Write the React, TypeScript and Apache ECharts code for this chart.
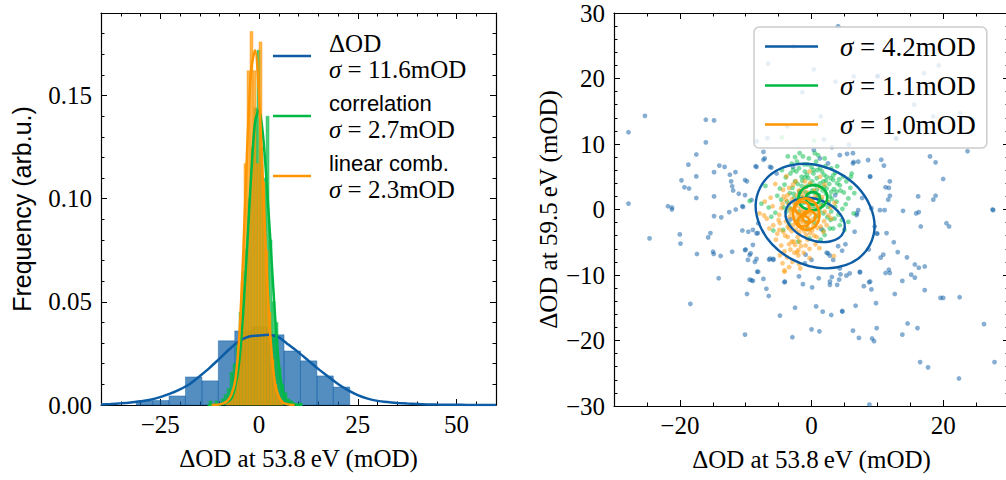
import React, { useEffect, useRef } from 'react';
import * as echarts from 'echarts';

const BLUE = '#0C5DA5';
const GREEN = '#00B945';
const ORANGE = '#FF9500';

// ---------- Left panel: histograms (density) ----------
const blueBinEdges = [-31.1, -26.94, -22.78, -18.62, -14.46, -10.3, -6.14, -1.98, 2.18, 6.34, 10.5, 14.66, 18.82, 22.98];
const blueHist = [0.0019, 0.0022, 0.0044, 0.0136, 0.0117, 0.0311, 0.0359, 0.0379, 0.034, 0.0262, 0.0214, 0.0141, 0.0087];

const greenBinEdges = [-12.66, -11.9, -11.14, -10.38, -9.62, -8.86, -8.1, -7.34, -6.58, -5.82, -5.06, -4.3, -3.54, -2.78, -2.02, -1.26, -0.5, 0.26, 1.02, 1.78, 2.54, 3.3, 4.06, 4.82, 5.58, 6.34, 7.1, 7.86, 8.62, 9.38, 10.14, 10.9];
const greenHist = [0.002, 0.0, 0.002, 0.0, 0.003, 0.005, 0.008, 0.016, 0.02, 0.03, 0.045, 0.065, 0.075, 0.1, 0.125, 0.144, 0.172, 0.125, 0.11, 0.14, 0.08, 0.05, 0.04, 0.018, 0.01, 0.006, 0.003, 0.002, 0.001, 0.0, 0.001];

const orangeBinEdges = [-8.36, -7.6, -6.84, -6.08, -5.32, -4.56, -3.8, -3.04, -2.28, -1.52, -0.76, 0.0, 0.76, 1.52, 2.28, 3.04, 3.8, 4.56, 5.32, 6.08];
const orangeHist = [0.002, 0.003, 0.006, 0.012, 0.025, 0.06, 0.117, 0.162, 0.181, 0.162, 0.117, 0.176, 0.108, 0.075, 0.045, 0.022, 0.01, 0.004, 0.002];

// KDE curves
const blueKdeX = [-40, -37.5, -35, -32.5, -30, -27.5, -25, -22.5, -20, -17.5, -15, -12.5, -10, -7.5, -5, -2.5, 0, 2.5, 5, 7.5, 10, 12.5, 15, 17.5, 20, 22.5, 25, 27.5, 30, 32.5, 35, 37.5, 40, 42.5, 45, 47.5, 50, 52.5, 55, 57.5, 60];
const blueKdeY = [0.0003, 0.0005, 0.0008, 0.0012, 0.0018, 0.0025, 0.0038, 0.0055, 0.0076, 0.0102, 0.014, 0.018, 0.0225, 0.027, 0.031, 0.0332, 0.0337, 0.0341, 0.0328, 0.0292, 0.0255, 0.0215, 0.0175, 0.0138, 0.0102, 0.0072, 0.0048, 0.0031, 0.002, 0.0014, 0.001, 0.0007, 0.0005, 0.0003, 0.0002, 0.00015, 0.0001, 0.00006, 0.00004, 0.00002, 0.00001];

const greenKdeX = [-13, -12, -11, -10, -9, -8, -7, -6, -5, -4, -3, -2, -1, 0, 1, 2, 3, 4, 5, 6, 7, 8, 9, 10, 11];
const greenKdeY = [0.0, 0.0001, 0.0002, 0.0004, 0.0008, 0.0015, 0.0032, 0.009, 0.021, 0.045, 0.077, 0.111, 0.137, 0.143, 0.131, 0.106, 0.076, 0.045, 0.02, 0.007, 0.0025, 0.0009, 0.0003, 0.0001, 0.0];

const orangeKdeX = [-12, -11, -10, -9, -8, -7, -6, -5, -4, -3, -2, -1, 0, 1, 2, 3, 4, 5, 6, 7, 8, 9];
const orangeKdeY = [0.0, 0.0001, 0.0003, 0.0008, 0.002, 0.005, 0.012, 0.033, 0.073, 0.124, 0.162, 0.172, 0.15, 0.108, 0.063, 0.03, 0.011, 0.004, 0.0013, 0.0004, 0.0001, 0.0];

// ---------- Right panel: scatter ----------
const bluePts = [
  [4.05, 27.97], [-6.59, 22.26], [19.35, 22.0], [10.1, 20.4], [3.65, 19.5], [-1.4, 17.9], [-25.3, 14.3], [-16.05, 13.7],
  [-14.8, 13.6], [-27.8, 11.8], [-16.05, 10.25], [18.5, 14.2], [12.9, 10.8], [-7.3, 8.8], [-7.3, 7.6], [-17.5, 8.4],
  [-18.7, 6.85], [-14.8, 5.7], [-14.0, 6.7], [-13.2, 6.5], [-11.55, 5.7], [-12.4, 5.3], [-17.5, 5.05], [-19.75, 4.45],
  [-19.3, 3.4], [-18.6, 3.2], [-17.5, 1.75], [-14.8, 2.0], [-12.2, 4.3], [-12.05, 3.55], [-11.9, 2.9], [-11.05, 2.4],
  [-9.8, 4.3], [-10.5, 0.5], [-8.5, 6.6], [-6.3, 6.5], [6.3, 8.6], [5.4, 8.5], [10.6, 7.6], [11.0, 6.7], [8.9, 5.05],
  [11.9, 4.3], [11.25, 3.4], [11.75, 3.3], [11.9, 2.1], [11.65, 1.5], [16.2, 2.0], [18.85, 2.1], [18.5, 1.5], [20.0, 4.65],
  [18.85, 7.2], [18.0, 8.1], [-27.8, 0.9], [-21.8, 0.5], [-21.2, 0.3], [27.5, 0.0], [7.7, 1.75], [6.4, 7.25],
  [-2.7, 24.9], [0.35, 21.4], [6.4, 20.3], [10.0, 20.3], [17.1, 20.8], [15.6, 16.0], [1.4, 14.2], [1.9, 10.7], [3.1, 9.5],
  [0.35, 9.1], [5.7, 9.9], [-6.7, 10.9], [-8.3, 10.4], [12.8, 10.9], [-3.7, 12.7], [22.6, 14.7], [23.7, 8.9],
  [-21.2, 0.0], [-14.8, -1.0], [-13.7, -1.2], [-12.5, -0.4], [-11.5, 0.0], [-24.6, -4.4], [-20.0, -3.8], [-19.9, -5.2],
  [-15.35, -3.6], [-15.7, -4.25], [-17.4, -6.8], [-14.95, -6.45], [-14.85, -6.8], [-13.8, -7.1], [-12.05, -6.45],
  [-10.5, -3.2], [-8.9, -3.1], [-8.15, -3.6], [-8.9, -5.4], [-10.0, -6.1], [-9.25, -6.7], [-9.65, -7.7], [-8.35, -7.55],
  [-6.45, -7.65], [-5.8, -7.55], [-8.25, -9.5], [-14.1, -10.5], [-9.4, -10.7], [-8.9, -10.9], [-7.3, -10.6], [-6.85, -12.1],
  [-6.5, -13.2], [-9.8, -12.9], [-18.4, -14.4], [-4.1, -11.1], [-1.9, -10.2], [-1.3, -11.4], [-0.9, -6.9], [0.1, -11.9],
  [1.1, -10.5], [2.3, -6.6], [2.8, -11.5], [3.1, -10.3], [3.9, -11.5], [4.2, -10.7], [4.4, -9.9], [5.3, -10.1], [4.65, -6.3],
  [4.05, -5.6], [5.15, -5.3], [6.55, -3.4], [7.35, -9.6], [7.95, -11.7], [8.75, -11.1], [9.1, -12.2], [8.7, -6.1],
  [10.0, -3.7], [11.4, -3.6], [12.5, -5.0], [13.1, -6.5], [10.9, -6.9], [10.5, -7.35], [14.5, -7.3], [11.25, -9.7],
  [11.9, -9.7], [11.75, -9.2], [15.15, -9.95], [15.7, -10.4], [13.8, -10.9], [12.65, -12.9], [15.7, -8.4], [16.3, -8.9],
  [17.2, -8.7], [17.2, -12.3], [19.6, -13.5], [20.0, -13.5], [22.5, -13.4], [26.2, -17.5], [27.8, -23.3], [22.4, -25.8],
  [16.5, -23.3], [17.7, -24.1], [16.1, -18.1], [14.6, -17.4], [13.8, -19.1], [9.8, -14.3], [6.7, -14.7], [4.65, -15.5],
  [4.7, -15.6], [3.0, -16.1], [1.7, -15.6], [0.7, -14.8], [-2.5, -15.0], [-4.8, -16.2], [-10.1, -19.1], [-2.9, -19.5],
  [0.0, -18.3], [1.2, -18.6], [6.3, -18.5], [7.2, -19.6], [9.2, -19.7], [9.5, -20.1], [9.9, -18.1], [8.8, -29.8],
  [10.4, -0.1], [11.1, -0.1], [13.9, -0.2], [15.9, -0.6], [16.3, -0.4], [16.6, -2.6], [20.5, -2.1], [20.9, -2.6],
  [27.6, -0.1], [6.9, -0.6], [2.8, -7.05], [-7.1, 7.8], [-8.35, 6.5], [-6.1, 6.4], [-10.1, 4.5], [-10.1, 2.2], [-10.4, 0.4],
  [-9.1, 1.45], [-8.1, -2.1], [-9.6, -3.4], [-8.35, -3.65], [-10.1, -6.2], [-9.4, -6.95], [-8.6, -8.0], [-6.3, -7.5],
  [-5.8, -7.7], [-8.1, -9.5], [-9.1, -10.8], [-4.05, -11.0], [-1.0, -8.2], [0.0, -7.7], [2.5, -6.7], [3.3, -7.7],
  [4.3, -9.0], [5.8, -9.75], [7.35, -9.5], [8.9, -11.0], [2.8, -11.0], [1.27, 7.8], [2.5, 7.05], [4.3, 8.3], [6.3, 7.05],
  [7.1, 7.3], [8.6, 7.55], [8.9, 5.0], [6.85, -0.85], [7.1, -0.1], [9.1, 0.2], [9.6, -2.6], [9.9, -3.65], [-5.3, 5.5],
  [-2.8, 6.5], [-3.2, -1.5], [1.5, -3.0], [-1.8, 2.6], [3.6, 2.2]
];

const greenPts = [
  [-3.6, 8.1], [-1.8, 8.6], [-1.3, 8.1], [-2.8, 6.0], [-2.3, 5.8], [-1.0, 5.8], [0.0, 6.5], [1.3, 6.3], [2.3, 5.0],
  [3.0, 6.3], [3.3, 4.5], [4.3, 3.7], [4.8, 5.0], [5.6, 1.7], [3.8, 2.7], [3.8, 1.2], [3.0, -0.3], [1.8, 4.3], [0.8, 4.8],
  [-4.1, 3.8], [-4.8, 3.2], [-3.3, 2.5], [-4.6, 1.5], [-3.8, -0.3], [-4.3, -3.1], [-2.0, -4.9], [-0.3, -4.4], [2.0, -3.9],
  [2.8, -2.9], [4.3, -2.4], [3.5, -1.4], [-6.1, -1.1], [-7.6, 0.9], [-1.5, 5.0], [-0.5, 4.8], [0.3, 5.5], [1.3, 4.0],
  [-0.8, 3.5], [-2.5, 4.3], [2.3, 3.2], [2.8, 2.0], [1.8, 0.7], [1.0, -0.9], [-0.8, -1.9], [-2.0, -1.6], [-3.3, 0.2],
  [-9.4, 1.3], [-5.8, -3.2], [1.8, -3.2], [3.3, -2.9], [4.6, -1.6], [5.6, -1.9], [6.1, 5.5], [6.0, 5.0],
  [0.5, 2.5], [-0.5, 2.0], [1.5, 1.5], [-1.2, 1.0], [0.8, 3.0], [2.2, 2.4], [-1.8, 2.8], [0.2, 0.5], [1.2, -0.2],
  [-0.3, 3.8], [2.7, 3.9], [3.6, 0.4], [4.9, 2.6], [5.2, 0.8], [4.1, -0.8], [-2.6, 1.8], [-3.9, 4.9], [-5.2, 2.1],
  [-6.5, 0.3], [-5.5, -0.5], [-1.1, 6.9], [0.7, 7.3], [2.0, 7.8], [3.6, 5.6], [-2.2, 7.3], [1.6, 5.8], [-0.2, 1.5],
  [0.9, 1.8], [1.9, 3.5], [-1.5, 3.6], [-2.9, 3.3], [2.4, -1.2], [3.1, 1.6], [-4.5, 6.0], [5.9, 3.3], [4.2, 4.6],
  [-0.6, -3.0], [0.4, -2.0], [-3.4, -2.2], [1.4, -4.6], [-7.0, 3.6], [6.4, -0.6], [5.0, -3.1], [-1.9, -0.3], [0.6, -1.2],
  [2.9, 4.8], [-2.4, 0.8], [3.9, 6.6], [-3.0, 7.0], [1.0, 8.3], [-0.4, 7.8], [-4.5, 11.0], [0.4, 10.5], [0.1, 2.9],
  [1.1, 2.2], [-0.9, 2.6], [2.6, 1.1], [-1.4, 4.4], [0.6, 3.7], [1.7, 2.9], [-2.1, 3.9], [3.4, 3.1],
  [-0.7, 5.3], [0.9, 6.0], [2.1, 6.6], [-1.9, 6.3], [3.3, 5.2], [4.4, 2.9], [3.9, 4.0], [2.5, 0.4], [1.4, 0.9],
  [-0.3, 0.9], [0.7, 0.1], [1.8, -0.6], [2.9, -1.6], [-1.6, 1.9], [-2.7, 2.4], [-3.7, 1.2], [-4.2, 0.3], [5.3, 4.3],
  [4.7, 0.1], [2.2, 4.4], [0.1, 4.3], [-1.0, 4.9], [-3.2, 5.5], [1.9, 5.3], [3.0, 2.7], [0.3, 6.0], [-0.6, 6.9],
  [-2.5, 8.0], [0.5, 8.6], [6.5, 2.5]
];

const orangePts = [
  [-4.3, 3.0], [-3.6, 2.2], [-4.6, 0.2], [-7.1, 1.2], [-6.8, -1.4], [-5.8, -2.4], [-4.8, -2.1], [-4.3, -3.4], [-3.6, -4.2],
  [-3.0, -4.9], [-2.5, -5.4], [-1.8, -4.9], [-4.1, -6.4], [-4.4, -8.2], [-4.1, -9.5], [-2.0, -7.0], [-0.8, -3.9],
  [0.8, -4.2], [1.8, -3.4], [2.3, -2.4], [3.0, -1.4], [2.0, -0.3], [1.3, 5.0], [-0.3, 5.8], [0.8, 2.2], [-1.0, 4.3],
  [-2.8, 3.8], [-1.8, 1.2], [-2.3, -0.3], [-0.3, -0.8], [0.3, -2.4], [-1.5, -2.9], [-2.8, -2.4], [-3.3, -1.1],
  [-4.1, -9.3], [-5.2, -3.7], [-4.9, -3.1], [-1.9, -8.3], [-1.7, -9.0], [3.4, -7.1], [-2.2, -6.5], [-2.7, -4.9],
  [-7.2, -0.9], [-7.9, -0.6], [-3.8, 5.1], [-3.4, 3.3], [-2.4, 4.3], [-4.2, 2.0],
  [-1.0, -1.0], [-0.5, 0.3], [-1.5, -0.5], [-2.0, 0.5], [0.2, -1.5], [-1.2, -2.0], [-0.7, 1.2], [0.5, 0.8], [-2.6, -1.4],
  [-1.9, -3.5], [-0.9, -5.5], [0.1, -3.2], [1.0, -1.0], [1.5, 0.5], [-3.5, 0.8], [-3.9, -1.8], [-2.2, 2.2], [-1.3, 3.0],
  [0.3, 1.8], [1.2, 3.4], [-0.2, 4.0], [2.4, 1.2], [2.6, -0.9], [1.9, -1.8], [-4.9, -0.8], [-5.4, -4.6], [-3.2, -6.1],
  [-1.2, -6.6], [-0.3, -6.0], [0.6, -5.3], [-2.9, -8.0], [-6.2, 1.8], [-5.5, 3.9], [-0.6, 2.6], [0.9, -2.8], [-1.6, 0.1],
  [-3.0, -3.3], [-4.6, -5.5], [2.0, 3.8], [3.5, 1.0], [0.0, 0.0], [-2.4, -2.0], [-0.8, -2.4], [-1.1, 1.8], [-2.0, -6.2],
  [-3.7, -7.3], [-1.4, -1.6], [-0.4, -1.9], [-2.9, 0.1], [-1.7, -1.1], [0.7, -0.6], [-3.4, -2.9], [-2.1, -4.2], [-0.2, -3.6],
  [-3.1, -0.5], [-2.6, 0.9], [-1.9, 2.9], [-0.9, 3.4], [0.4, 2.9], [1.6, 1.9], [1.1, 0.2], [-0.1, -0.4], [-1.1, -0.3],
  [-2.1, -0.9], [-3.6, -2.6], [-2.4, -3.1], [-1.1, -3.3], [0.4, -4.0], [-0.6, -4.6], [-1.6, -5.6], [-2.6, -6.6],
  [-3.4, -5.3], [-4.0, -4.0], [-5.0, -1.6], [-4.4, 0.9], [-3.0, 1.6], [-1.4, 2.3], [-0.1, 1.1], [0.9, -1.9], [1.4, -2.6],
  [-0.5, -2.8], [-2.0, -2.5], [-3.2, 0.0], [-1.8, -1.9], [2.9, 0.3], [-5.9, 0.5], [-6.4, -2.9], [-3.9, 1.5], [-0.3, -7.4],
  [1.2, -5.9], [-4.8, -7.0], [-3.4, -8.8]
];

// KDE contour approximations: [cx, cy, semi-axis a, semi-axis b, angle (deg)]
const blueContours = [[0.55, -1.0, 9.4, 7.5, -28], [0.55, -1.6, 4.7, 3.1, -22]];
const greenContours = [[0.2, 1.8, 2.2, 1.9, 10], [0.2, 1.7, 1.1, 0.95, 0]];
const orangeContours = [[-0.8, -0.7, 2.4, 2.0, 100], [-1.4, 0.2, 1.1, 1.0, 0], [-0.4, -1.1, 1.0, 0.9, 0], [-1.2, -1.8, 0.9, 0.8, 0]];

// Ticks
const leftXMajor = [-25, 0, 25, 50];
const leftYMajor = [0, 0.05, 0.1, 0.15];
const rightXMajor = [-20, 0, 20];
const rightYMajor = [-30, -20, -10, 0, 10, 20, 30];

const range = (a: number, b: number, s: number) => {
  const out: number[] = [];
  for (let v = a; v <= b + 1e-9; v += s) out.push(Math.round(v * 1000) / 1000);
  return out;
};
const leftXMinor = range(-40, 60, 5);
const leftYMinor = range(0, 0.19, 0.01);
const rightXMinor = range(-30, 30, 5);
const rightYMinor = range(-30, 30, 2);

const SERIF = "'Liberation Serif', 'DejaVu Serif', serif";
const SANS = "'Liberation Sans', 'DejaVu Sans', sans-serif";

const minusFmt = (v: number) => (v < 0 ? '\u2212' + Math.abs(v) : String(v));

function axisGroup(
  gridIndex: number,
  dim: 'x' | 'y',
  min: number,
  max: number,
  majors: number[],
  minors: number[],
  fmt: (v: number) => string,
  name: string,
  nameGap: number,
  nameFont: string
) {
  const positions = dim === 'x' ? ['bottom', 'top'] : ['left', 'right'];
  const list: any[] = [];
  positions.forEach((pos, pi) => {
    [true, false].forEach((isMajor) => {
      const primary = pi === 0 && isMajor;
      list.push({
        type: 'value',
        gridIndex,
        min,
        max,
        position: pos,
        splitLine: { show: false },
        axisLine: { show: isMajor, onZero: false, lineStyle: { color: '#000', width: 1.2 } },
        axisTick: {
          show: true,
          inside: true,
          length: isMajor ? 6 : 3.5,
          customValues: isMajor ? majors : minors,
          lineStyle: { color: '#000', width: 1 },
        },
        axisLabel: {
          show: primary,
          customValues: majors,
          formatter: fmt,
          fontFamily: SERIF,
          fontSize: 25,
          color: '#000',
          margin: dim === 'x' ? 7 : 9,
        },
        name: primary ? name : '',
        nameLocation: 'middle',
        nameGap,
        nameTextStyle: { fontFamily: nameFont, fontSize: 25, color: '#000' },
      });
    });
  });
  return list;
}

function histSeries(edges: number[], heights: number[], color: string) {
  return {
    type: 'custom',
    xAxisIndex: 0,
    yAxisIndex: 0,
    silent: true,
    z: 2,
    data: heights.map((h, i) => [edges[i], edges[i + 1], h]),
    encode: { x: [0, 1], y: 2 },
    renderItem: (_p: any, api: any) => {
      const p0 = api.coord([api.value(0), api.value(2)]);
      const p1 = api.coord([api.value(1), 0]);
      return {
        type: 'rect',
        shape: { x: p0[0], y: p0[1], width: p1[0] - p0[0], height: p1[1] - p0[1] },
        style: { fill: color, opacity: 0.7, stroke: color, lineWidth: 0.6 },
      };
    },
  };
}

function kdeSeries(name: string, xs: number[], ys: number[], color: string) {
  return {
    type: 'line',
    name,
    xAxisIndex: 0,
    yAxisIndex: 0,
    z: 3,
    color,
    symbol: 'none',
    smooth: 0.3,
    silent: true,
    lineStyle: { color, width: 2.5 },
    itemStyle: { color },
    data: xs.map((x, i) => [x, ys[i]]),
  };
}

function scatterSeries(pts: number[][], color: string, opacity: number) {
  return {
    type: 'scatter',
    xAxisIndex: 4,
    yAxisIndex: 4,
    silent: true,
    z: 2,
    symbolSize: 4.8,
    itemStyle: { color, opacity },
    data: pts,
  };
}

function contourSeries(name: string, items: number[][], color: string, width: number) {
  return {
    type: 'custom',
    name,
    xAxisIndex: 4,
    yAxisIndex: 4,
    silent: true,
    z: 3,
    color,
    itemStyle: { color },
    data: items,
    encode: { x: 0, y: 1 },
    renderItem: (_p: any, api: any) => {
      const c = api.coord([api.value(0), api.value(1)]);
      const s = api.size([api.value(2), api.value(3)]);
      return {
        type: 'ellipse',
        x: c[0],
        y: c[1],
        rotation: (api.value(4) * Math.PI) / 180,
        shape: { cx: 0, cy: 0, rx: s[0], ry: s[1] },
        style: { fill: 'none', stroke: color, lineWidth: width },
      };
    },
  };
}

const leftLegendText: Record<string, string> = {
  kb: '{p|}{s|ΔOD}\n{p|}{i|σ}{s| = 11.6mOD}',
  kg: '{p|}{t|correlation}\n{p|}{i|σ}{s| = 2.7mOD}',
  ko: '{p|}{t|linear comb.}\n{p|}{i|σ}{s| = 2.3mOD}',
};
const rightLegendText: Record<string, string> = {
  cb: '{p|}{i|σ}{s| = 4.2mOD}',
  cg: '{p|}{i|σ}{s| = 1.1mOD}',
  co: '{p|}{i|σ}{s| = 1.0mOD}',
};

export default function App() {
  const ref = useRef<HTMLDivElement>(null);
  useEffect(() => {
    if (!ref.current) return;
    const chart = echarts.init(ref.current, undefined, { renderer: 'svg' });
    const option: any = {
      animation: false,
      backgroundColor: '#fff',
      grid: [
        { left: 101, top: 13, width: 395, height: 392 },
        { left: 614, top: 13, width: 395, height: 393 },
      ],
      xAxis: [
        ...axisGroup(0, 'x', -40, 60, leftXMajor, leftXMinor, minusFmt, 'ΔOD at 53.8\u2009eV (mOD)', 41, SERIF),
        ...axisGroup(1, 'x', -30, 30, rightXMajor, rightXMinor, minusFmt, 'ΔOD at 53.8\u2009eV (mOD)', 41, SERIF),
      ],
      yAxis: [
        ...axisGroup(0, 'y', 0, 0.19, leftYMajor, leftYMinor, (v: number) => v.toFixed(2), 'Frequency (arb.u.)', 67, SANS),
        ...axisGroup(1, 'y', -30, 30, rightYMajor, rightYMinor, minusFmt, 'ΔOD at 59.5\u2009eV (mOD)', 53, SERIF),
      ],
      legend: [
        {
          data: ['kb', 'kg', 'ko'],
          orient: 'vertical',
          left: 273,
          top: 30,
          padding: 0,
          itemWidth: 38,
          itemHeight: 2.5,
          itemGap: 8,
          icon: 'rect',
          selectedMode: false,
          formatter: (n: string) => leftLegendText[n],
          textStyle: {
            lineHeight: 26,
            rich: {
              p: { width: 13 },
              s: { fontFamily: SERIF, fontSize: 25, lineHeight: 26, color: '#000' },
              i: { fontFamily: SERIF, fontSize: 25, fontStyle: 'italic', lineHeight: 26, color: '#000' },
              t: { fontFamily: SANS, fontSize: 22, lineHeight: 26, color: '#000' },
            },
          },
        },
        {
          data: ['cb', 'cg', 'co'],
          orient: 'vertical',
          left: 754,
          top: 27,
          padding: [6, 11, 10, 11],
          itemWidth: 53,
          itemHeight: 2.5,
          itemGap: 12,
          icon: 'rect',
          selectedMode: false,
          backgroundColor: 'rgba(255,255,255,0.8)',
          borderColor: '#cccccc',
          borderWidth: 1.5,
          borderRadius: 5,
          formatter: (n: string) => rightLegendText[n],
          textStyle: {
            lineHeight: 26,
            rich: {
              p: { width: 17 },
              s: { fontFamily: SERIF, fontSize: 27, lineHeight: 26, color: '#000' },
              i: { fontFamily: SERIF, fontSize: 27, fontStyle: 'italic', lineHeight: 26, color: '#000' },
            },
          },
        },
      ],
      series: [
        histSeries(blueBinEdges, blueHist, BLUE),
        histSeries(greenBinEdges, greenHist, GREEN),
        histSeries(orangeBinEdges, orangeHist, ORANGE),
        kdeSeries('kb', blueKdeX, blueKdeY, BLUE),
        kdeSeries('kg', greenKdeX, greenKdeY, GREEN),
        kdeSeries('ko', orangeKdeX, orangeKdeY, ORANGE),
        scatterSeries(bluePts, BLUE, 0.5),
        scatterSeries(greenPts, GREEN, 0.5),
        scatterSeries(orangePts, ORANGE, 0.5),
        contourSeries('cb', blueContours, BLUE, 2.4),
        contourSeries('cg', greenContours, GREEN, 2.6),
        contourSeries('co', orangeContours, ORANGE, 2.6),
      ],
    };
    chart.setOption(option);
    return () => chart.dispose();
  }, []);
  return (
    <div style={{ position: 'fixed', left: 0, top: 0, width: 1006, height: 480, overflow: 'hidden', background: '#fff' }}>
      <div ref={ref} style={{ width: 1012, height: 480 }} />
    </div>
  );
}
